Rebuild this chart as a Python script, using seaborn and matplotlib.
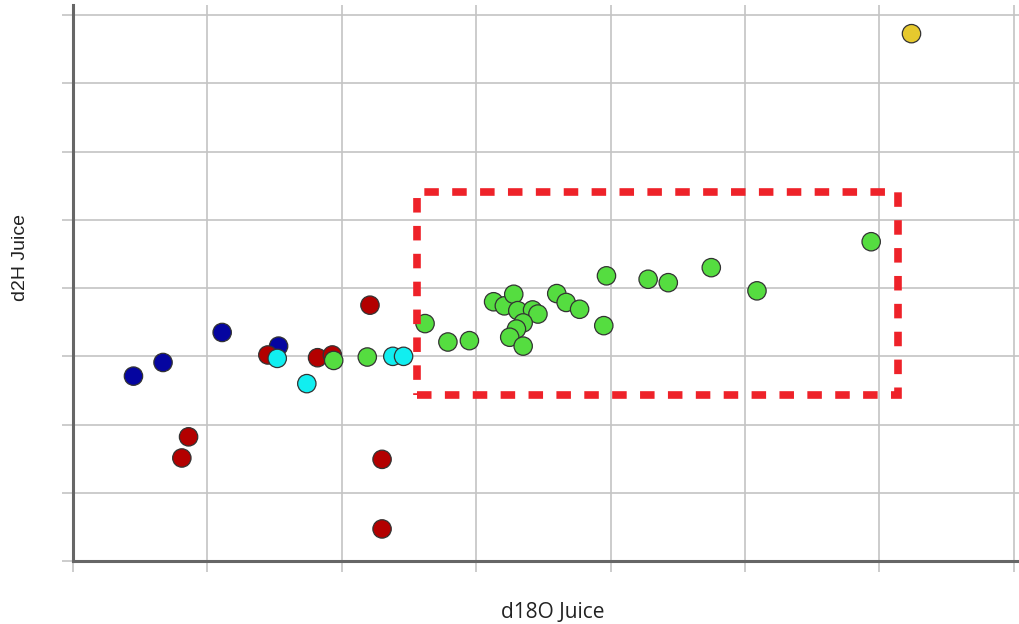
import matplotlib
matplotlib.use("Agg")
import matplotlib.pyplot as plt
import seaborn as sns
import pandas as pd
from matplotlib.patches import Rectangle

# ---- data (arbitrary units; no tick labels in the reference) ----
blue_x = [0.45, 0.67, 1.11, 1.53]
blue_y = [2.71, 2.91, 3.35, 3.15]

red_x = [0.86, 0.81, 1.45, 1.82, 1.93, 2.21, 2.30, 2.30]
red_y = [1.82, 1.51, 3.02, 2.98, 3.02, 3.75, 1.49, 0.47]

cyan_x = [1.52, 1.74, 2.38, 2.46]
cyan_y = [2.97, 2.60, 3.00, 3.00]

green_x = [1.94, 2.19, 2.62, 2.79, 2.95, 3.13, 3.21, 3.28, 3.31, 3.42,
           3.46, 3.35, 3.30, 3.25, 3.35, 3.60, 3.67, 3.77, 3.95, 3.97,
           4.28, 4.43, 4.75, 5.09, 5.94]
green_y = [2.94, 2.99, 3.48, 3.21, 3.23, 3.80, 3.74, 3.91, 3.67, 3.68,
           3.62, 3.49, 3.40, 3.28, 3.15, 3.92, 3.79, 3.69, 3.45, 4.18,
           4.13, 4.08, 4.30, 3.96, 4.68]

yellow_x = [6.24]
yellow_y = [7.73]

box_x = [2.56, 6.14]
box_y = [2.43, 5.41]

groups = ["A", "B", "C", "D", "E"]
palette = {"A": "#0505A0", "B": "#B30000", "C": "#11EEF0", "D": "#55DD40", "E": "#E6C92E"}

df = pd.concat([
    pd.DataFrame({"x": blue_x, "y": blue_y, "g": "A"}),
    pd.DataFrame({"x": red_x, "y": red_y, "g": "B"}),
    pd.DataFrame({"x": cyan_x, "y": cyan_y, "g": "C"}),
    pd.DataFrame({"x": green_x, "y": green_y, "g": "D"}),
    pd.DataFrame({"x": yellow_x, "y": yellow_y, "g": "E"}),
], ignore_index=True)

sns.set_style("white")
plt.rcParams["font.family"] = ["Open Sans", "DejaVu Sans"]

fig = plt.figure(figsize=(10.19, 6.24), dpi=100)
ax = fig.add_axes([73 / 1019, 63 / 624, 946 / 1019, 556 / 624])

sns.scatterplot(data=df, x="x", y="y", hue="g", hue_order=groups, palette=palette,
                s=175, edgecolor="#333333", linewidth=0.9, legend=False, ax=ax, zorder=3)

ax.add_patch(Rectangle((box_x[0], box_y[0]), box_x[1] - box_x[0], box_y[1] - box_y[0],
                       fill=False, edgecolor="#EE2229", linewidth=5.5,
                       linestyle=(0, (1.9, 1.75)), zorder=4))

ax.set_xlim(0, 7.04)
ax.set_ylim(0, 8.15)
ax.set_xticks(range(0, 8))
ax.set_yticks(range(0, 9))
ax.set_xticklabels([])
ax.set_yticklabels([])
ax.grid(True, color="#C4C4C4", linewidth=1.2, zorder=0)
ax.set_axisbelow(True)
ax.tick_params(axis="both", length=8, width=1.2, color="#C4C4C4", direction="out",
               bottom=True, left=True)
for side in ["top", "right"]:
    ax.spines[side].set_visible(False)
for side in ["left", "bottom"]:
    ax.spines[side].set_color("#666666")
    ax.spines[side].set_linewidth(2.2)

ax.set_xlabel("d18O Juice", fontsize=15, color="#222222", family=["Open Sans", "DejaVu Sans"])
ax.set_ylabel("d2H Juice", fontsize=14, color="#222222", family=["Liberation Sans", "DejaVu Sans"])
ax.xaxis.set_label_coords(0.507, -0.074)
ax.yaxis.set_label_coords(-0.046, 0.545)

fig.savefig("out.png", dpi=100)
